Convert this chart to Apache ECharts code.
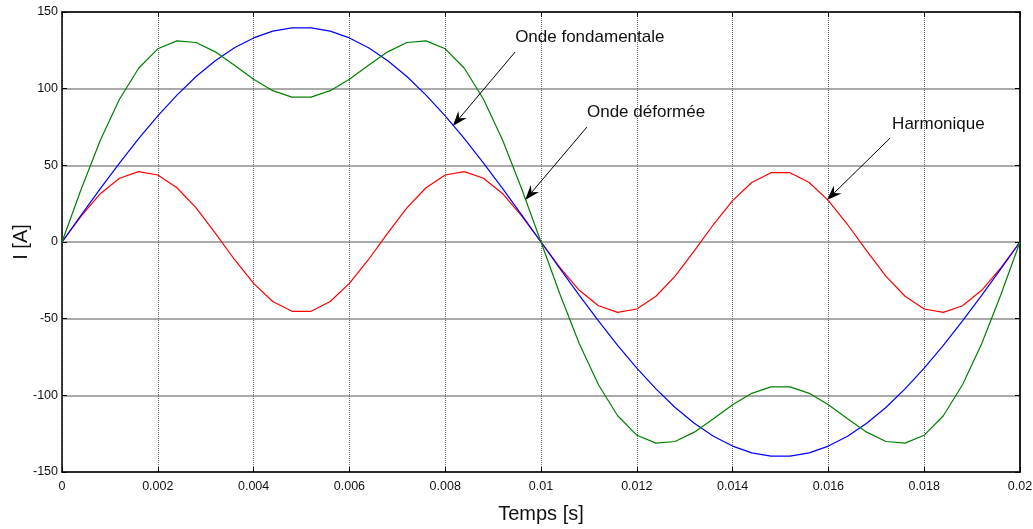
<!DOCTYPE html>
<html>
<head>
<meta charset="utf-8">
<script src="https://cdn.jsdelivr.net/npm/echarts@6/dist/echarts.min.js"></script>
<style>html,body{margin:0;padding:0;background:#fff}#c{width:1033px;height:529px}</style>
</head>
<body>
<div id="c"></div>
<script>
// time samples [s]
var temps = [0,0.0004,0.0008,0.0012,0.0016,0.002,0.0024,0.0028,0.0032,0.0036,0.004,0.0044,0.0048,0.0052,0.0056,0.006,0.0064,0.0068,0.0072,0.0076,0.008,0.0084,0.0088,0.0092,0.0096,0.01,0.0104,0.0108,0.0112,0.0116,0.012,0.0124,0.0128,0.0132,0.0136,0.014,0.0144,0.0148,0.0152,0.0156,0.016,0.0164,0.0168,0.0172,0.0176,0.018,0.0184,0.0188,0.0192,0.0196,0.02];
// Onde fondamentale (blue)
var fondamentale = [0,17.5,34.8,51.5,67.4,82.3,95.8,107.9,118.2,126.7,133.1,137.5,139.7,139.7,137.5,133.1,126.7,118.2,107.9,95.8,82.3,67.4,51.5,34.8,17.5,0,-17.5,-34.8,-51.5,-67.4,-82.3,-95.8,-107.9,-118.2,-126.7,-133.1,-137.5,-139.7,-139.7,-137.5,-133.1,-126.7,-118.2,-107.9,-95.8,-82.3,-67.4,-51.5,-34.8,-17.5,0];
// Harmonique (red)
var harmonique = [0,16.9,31.5,41.6,45.9,43.7,35.4,22.2,5.8,-11.4,-27.0,-38.8,-45.2,-45.2,-38.8,-27.0,-11.4,5.8,22.2,35.4,43.7,45.9,41.6,31.5,16.9,0,-16.9,-31.5,-41.6,-45.9,-43.7,-35.4,-22.2,-5.8,11.4,27.0,38.8,45.2,45.2,38.8,27.0,11.4,-5.8,-22.2,-35.4,-43.7,-45.9,-41.6,-31.5,-16.9,0];
// Onde déformée (green)
var deformee = [0,34.4,66.3,93.1,113.3,126.0,131.2,130.1,124.0,115.3,106.1,98.7,94.5,94.5,98.7,106.1,115.3,124.0,130.1,131.2,126.0,113.3,93.1,66.3,34.4,0,-34.4,-66.3,-93.1,-113.3,-126.0,-131.2,-130.1,-124.0,-115.3,-106.1,-98.7,-94.5,-94.5,-98.7,-106.1,-115.3,-124.0,-130.1,-131.2,-126.0,-113.3,-93.1,-66.3,-34.4,0];
// annotations: [label, textPos, arrowStart, arrowTip] in data units
var annotations = [
  ['Onde fondamentale', [0.00946, 133.7], [0.00946, 123.9], [0.00816, 75.7]],
  ['Onde déformée', [0.01096, 84.8], [0.01096, 75.0], [0.00967, 27.4]],
  ['Harmonique', [0.01733, 77.0], [0.01729, 67.8], [0.01597, 27.4]]
];

function pairs(ys){ return temps.map(function(t,i){ return [t, ys[i]]; }); }
var FONT = "'Liberation Sans Narrow','Arial Narrow','Liberation Sans',Arial,sans-serif";

var chart = echarts.init(document.getElementById('c'), null, {renderer:'canvas'});
var option = {
  animation:false,
  backgroundColor:'#fff',
  grid:{left:62, right:13, top:12, bottom:57, show:false, containLabel:false, outerBoundsMode:'none'},
  xAxis:[{
    type:'value', min:0, max:0.02, interval:0.002,
    name:'Temps [s]', nameLocation:'middle', nameGap:32,
    nameTextStyle:{fontFamily:FONT, fontSize:20, color:'#111'},
    axisLine:{show:true, onZero:false, lineStyle:{color:'#000', width:1.5}},
    axisTick:{show:true, inside:true, length:5, lineStyle:{color:'#000'}},
    axisLabel:{fontFamily:FONT, fontSize:12.5, color:'#111', margin:8,
      formatter:function(v){ return String(parseFloat(v.toFixed(4))); }},
    splitLine:{show:true, lineStyle:{color:'#666', width:1, type:[1,1]}}
  },{
    type:'value', min:0, max:0.02, interval:0.002, position:'top',
    axisLine:{show:true, onZero:false, lineStyle:{color:'#000', width:1.5}},
    axisTick:{show:true, inside:true, length:5, lineStyle:{color:'#000'}},
    axisLabel:{show:false}, splitLine:{show:false}
  }],
  yAxis:[{
    type:'value', min:-150, max:150, interval:50,
    name:'I [A]', nameLocation:'middle', nameGap:31, nameRotate:90, nameMoveOverlap:false,
    nameTextStyle:{fontFamily:FONT, fontSize:20, color:'#111'},
    axisLine:{show:true, onZero:false, lineStyle:{color:'#000', width:1.5}},
    axisTick:{show:true, inside:true, length:5, lineStyle:{color:'#000'}},
    axisLabel:{fontFamily:FONT, fontSize:12.5, color:'#111', margin:4},
    splitLine:{show:true, lineStyle:{color:'#aaa', width:2}}
  },{
    type:'value', min:-150, max:150, interval:50, position:'right',
    axisLine:{show:true, onZero:false, lineStyle:{color:'#222', width:2}},
    axisTick:{show:true, inside:true, length:5, lineStyle:{color:'#000'}},
    axisLabel:{show:false}, splitLine:{show:false}
  }],
  series:[
    {type:'line', name:'Onde fondamentale', data:pairs(fondamentale), showSymbol:false,
     lineStyle:{color:'#0000ff', width:1.2}, itemStyle:{color:'#0000ff'}, z:3},
    {type:'line', name:'Harmonique', data:pairs(harmonique), showSymbol:false,
     lineStyle:{color:'#ff0000', width:1.2}, itemStyle:{color:'#ff0000'}, z:2},
    {type:'line', name:'Onde déformée', data:pairs(deformee), showSymbol:false,
     lineStyle:{color:'#008000', width:1.2}, itemStyle:{color:'#008000'}, z:4,
     markPoint:{
       silent:true, animation:false, symbol:'circle', symbolSize:0,
       label:{show:true, position:'right', distance:0, fontFamily:FONT, fontSize:17, color:'#111',
         formatter:function(p){ return p.name; }},
       data: annotations.map(function(a){ return {name:a[0], coord:a[1]}; })
     }}
  ]
};
chart.setOption(option);

// arrows: positions converted from data coordinates through the chart's axes
function drawArrows(){
  var els = [];
  annotations.forEach(function(a){
    var p0 = chart.convertToPixel({gridIndex:0}, a[2]);
    var p1 = chart.convertToPixel({gridIndex:0}, a[3]);
    var dx = p1[0]-p0[0], dy = p1[1]-p0[1];
    var L = Math.sqrt(dx*dx+dy*dy), ux = dx/L, uy = dy/L, nx = -uy, ny = ux;
    var len = 15, half = 5.5, notch = 10;
    var base = [p1[0]-ux*len, p1[1]-uy*len];
    var mid = [p1[0]-ux*notch, p1[1]-uy*notch];
    els.push({type:'line', silent:true, z:10,
      shape:{x1:p0[0], y1:p0[1], x2:mid[0], y2:mid[1]},
      style:{stroke:'#000', lineWidth:1}});
    els.push({type:'polygon', silent:true, z:10,
      shape:{points:[p1, [base[0]+nx*half, base[1]+ny*half], mid, [base[0]-nx*half, base[1]-ny*half]]},
      style:{fill:'#000'}});
  });
  chart.setOption({graphic:{elements:els}});
}
drawArrows();
</script>
</body>
</html>
